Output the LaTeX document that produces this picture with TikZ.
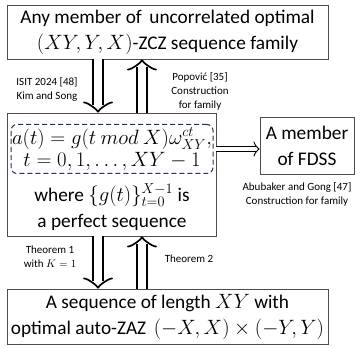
\documentclass[tikz,border=0pt]{standalone}
\usepackage{fontspec}
\setmainfont{Carlito}
\usetikzlibrary{arrows.meta}
\usetikzlibrary{positioning}
\definecolor{dashblue}{RGB}{31,52,92}

\begin{document}
\begin{tikzpicture} [x=1pt, y=1pt,
  box/.style={draw=black!70, line width=.9pt, inner sep=0, align=center, font=\fontsize{19.3}{26}\selectfont},
  lbl/.style={align=center, inner sep=0, font=\fontsize{11}{14}\selectfont},
  dbl/.style={double, line width=1.7pt, double distance=8pt, -{Classical TikZ Rightarrow[length=11pt, width=30pt, line width=1.7pt]}},
  thin dbl/.style={double, line width=.9pt, double distance=3.5pt, -{Classical TikZ Rightarrow[length=6pt, width=15pt, line width=.9pt]}}]
\useasboundingbox (0,0) rectangle (363,347);
% boxes
\node[box, minimum width=321, minimum height=54] (top) at (167.5,315) {Any member of\, uncorrelated optimal\\ $(XY,Y,X)$-ZCZ sequence family};
\node[box, minimum width=209, minimum height=123] (mid) at (111.5,172.5) {};
\node[draw=dashblue, dash pattern=on 5pt off 3pt, line width=1pt, rounded corners=6, minimum width=202, minimum height=49, align=center, inner sep=0, font=\fontsize{19.5}{22}\selectfont] (dash) at (112,198) {$a(t)=g(t\ mod\ X)\omega_{XY}^{ct},$\\ $t=0,1,\ldots,XY-1$};
\node[align=center, inner sep=0, font=\fontsize{19.3}{26}\selectfont] (perf) at (112,140) {where $\{g(t)\}_{t=0}^{X-1}$ is\\ a perfect sequence};
\node[box, minimum width=94, minimum height=57] (fdss) at (307,201.5) {A member\\ of FDSS};
\node[box, minimum width=321, minimum height=55] (bot) at (167.5,30.5) {A sequence of length $XY$ with\\ optimal auto-ZAZ\, $(-X,X)\times(-Y,Y)$};
% arrows
\coordinate (dn) at (98,0);
\coordinate (up) at (142,0);
\draw[dbl] (top.south -| dn) -- (mid.north -| dn);
\draw[dbl] (mid.north -| up) -- (top.south -| up);
\draw[dbl] (mid.south -| dn) -- (bot.north -| dn);
\draw[dbl] (bot.north -| up) -- (mid.south -| up);
\draw[thin dbl] (mid.east |- dash) -- (fdss.west |- dash);
% labels
\node[lbl] (kim) at (47,258) {ISIT 2024 [48]\\ Kim and Song};
\node[lbl] (pop) at (200,256) {Popović [35]\\ Construction\\ for family};
\node[lbl] (abu) at (297,153) {Abubaker and Gong [47]\\ Construction for family};
\node[lbl] (th1) at (50,90) {Theorem 1\\ with $K=1$};
\node[lbl] (th2) at (189,88) {Theorem 2};
\end{tikzpicture}
\end{document}
